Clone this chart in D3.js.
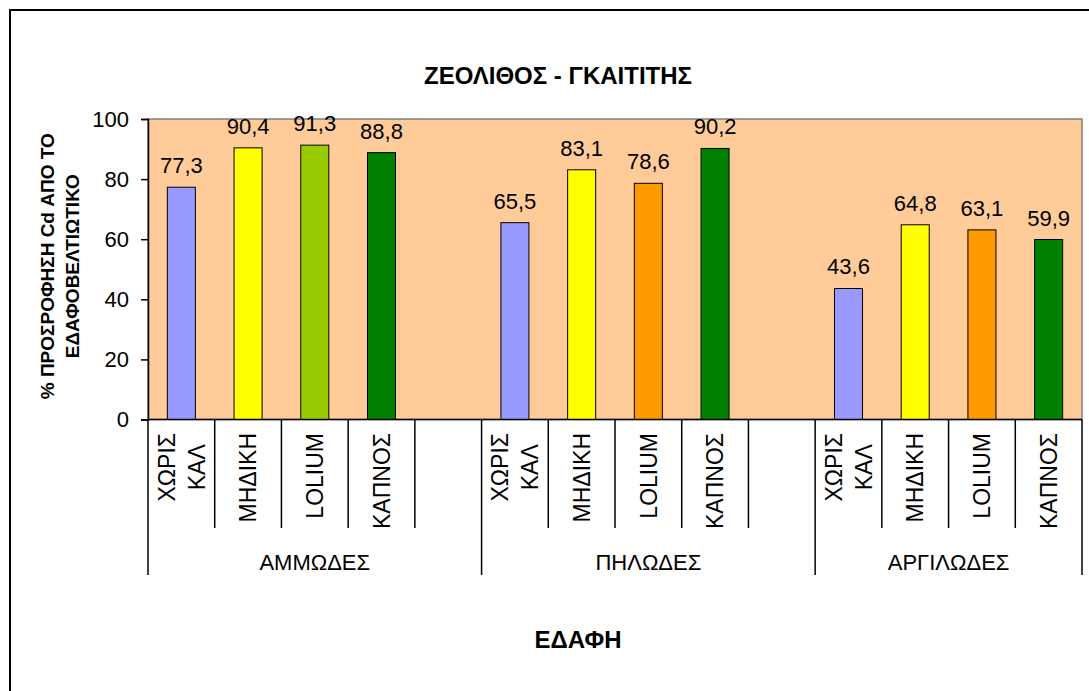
<!DOCTYPE html>
<html>
<head>
    <meta charset="UTF-8">
    <title>ΖΕΟΛΙΘΟΣ - ΓΚΑΙΤΙΤΗΣ</title>
    <script src="https://d3js.org/d3.v7.min.js"></script>
    <style>
        body { margin: 0; background: #fff; }
        text { font-family: Arial, "Liberation Sans", sans-serif; }
    </style>
</head>
<body>
    <svg class="chart"></svg>

    <script>
    // data
    const soils = ["ΑΜΜΩΔΕΣ", "ΠΗΛΩΔΕΣ", "ΑΡΓΙΛΩΔΕΣ"];
    const treatments = ["ΧΩΡΙΣ ΚΑΛ", "ΜΗΔΙΚΗ", "LOLIUM", "ΚΑΠΝΟΣ"];
    const ammodes = [77.3, 90.4, 91.3, 88.8];
    const pilodes = [65.5, 83.1, 78.6, 90.2];
    const argilodes = [43.6, 64.8, 63.1, 59.9];
    const yTicks = [0, 20, 40, 60, 80, 100];
    const colorsSand = ["#9999FF", "#FFFF00", "#99CC00", "#008000"];
    const colorsOther = ["#9999FF", "#FFFF00", "#FF9900", "#008000"];

    const width = 1089;
    const height = 691;
    const plot = {left: 148, right: 1082, top: 119, bottom: 419.5};

    const svg = d3.select(".chart")
        .attr("width", width)
        .attr("height", height);

    // build the slots: every soil gets its four treatments, the first two an empty gap slot
    const seriesBySoil = [ammodes, pilodes, argilodes];
    const slots = [];
    soils.forEach((s, gi) => {
        treatments.forEach((t, ti) => {
            slots.push({id: `${gi}-${ti}`, soil: s, label: t, value: seriesBySoil[gi][ti],
                color: gi === 0 ? colorsSand[ti] : colorsOther[ti]});
        });
        if (gi < soils.length - 1) slots.push({id: `${gi}-gap`, soil: s, label: "", value: null});
    });

    const x_scale = d3.scaleBand()
        .domain(slots.map(d => d.id))
        .range([plot.left, plot.right])
        .padding(0);

    const y_scale = d3.scaleLinear()
        .domain([0, 100])
        .range([plot.bottom, plot.top]);

    const bw = x_scale.bandwidth();
    const barW = bw * 0.42;

    // outer frame (runs off the right and bottom edges)
    svg.append("rect")
        .attr("x", 10).attr("y", 10)
        .attr("width", 1200).attr("height", 800)
        .style("fill", "none")
        .style("stroke", "#000")
        .style("stroke-width", 2);

    // plot area
    svg.append("rect")
        .attr("x", plot.left).attr("y", plot.top)
        .attr("width", plot.right - plot.left)
        .attr("height", plot.bottom - plot.top)
        .style("fill", "#FFCC99")
        .style("stroke", "#808080")
        .style("stroke-width", 1.5);

    // bars
    svg.selectAll(".bar")
        .data(slots.filter(d => d.value !== null))
        .enter().append("rect")
        .attr("class", "bar")
        .attr("x", d => x_scale(d.id) + (bw - barW) / 2)
        .attr("y", d => y_scale(d.value))
        .attr("width", barW)
        .attr("height", d => y_scale(0) - y_scale(d.value))
        .style("fill", d => d.color)
        .style("stroke", "#000")
        .style("stroke-width", 1);

    // value labels
    svg.selectAll(".val")
        .data(slots.filter(d => d.value !== null))
        .enter().append("text")
        .attr("class", "val")
        .attr("x", d => x_scale(d.id) + bw / 2)
        .attr("y", d => y_scale(d.value) - 14)
        .attr("text-anchor", "middle")
        .style("font-size", "22px")
        .text(d => d3.format(".1f")(d.value).replace(".", ","));

    // y axis
    const yAxis = svg.append("g")
        .attr("transform", `translate(${plot.left},0)`)
        .call(d3.axisLeft(y_scale).tickValues(yTicks).tickSize(7).tickPadding(12));
    yAxis.selectAll("path, line").style("stroke", "#000").style("stroke-width", 1.5);
    yAxis.selectAll("text")
        .style("font-size", "22px")
        .style("font-family", "Arial, 'Liberation Sans', sans-serif")
        .attr("fill", "#000");

    // x axis: base line, slot ticks, group ticks
    svg.append("line")
        .attr("x1", plot.left).attr("x2", plot.right)
        .attr("y1", plot.bottom).attr("y2", plot.bottom)
        .style("stroke", "#000").style("stroke-width", 1.5);

    const bounds = slots.map(d => x_scale(d.id)).concat([plot.right]);
    const groupStarts = soils.map(s => x_scale(slots.find(d => d.soil === s).id));
    const groupEdges = groupStarts.concat([plot.right]);

    svg.selectAll(".slotTick")
        .data(bounds)
        .enter().append("line")
        .attr("x1", d => d).attr("x2", d => d)
        .attr("y1", plot.bottom)
        .attr("y2", d => groupEdges.some(g => Math.abs(g - d) < 0.5) ? 575 : 528)
        .style("stroke", "#000").style("stroke-width", 1.5);

    // rotated treatment labels
    const catSize = 23;
    svg.selectAll(".cat")
        .data(slots.filter(d => d.label !== ""))
        .enter().append("g")
        .attr("class", "cat")
        .attr("transform", d => `translate(${x_scale(d.id) + bw / 2}, 433) rotate(-90)`)
        .each(function(d) {
            const words = d.label.split(" ");
            const g = d3.select(this);
            const lh = 30;
            if (words.length === 1) {
                g.append("text")
                    .attr("x", 0).attr("y", 0)
                    .attr("dy", "0.36em")
                    .attr("text-anchor", "end")
                    .style("font-size", catSize + "px")
                    .text(d.label);
            } else {
                // two centred lines, block starts at the axis
                const tmp = g.append("text").style("font-size", catSize + "px").text(words[0]);
                const w0 = tmp.node().getComputedTextLength();
                tmp.remove();
                words.forEach((w, i) => {
                    g.append("text")
                        .attr("x", -w0 / 2)
                        .attr("y", (i - (words.length - 1) / 2) * lh)
                        .attr("dy", "0.36em")
                        .attr("text-anchor", "middle")
                        .style("font-size", catSize + "px")
                        .text(w);
                });
            }
        });

    // soil group labels
    svg.selectAll(".grp")
        .data(soils)
        .enter().append("text")
        .attr("class", "grp")
        .attr("x", (d, i) => (groupEdges[i] + groupEdges[i + 1]) / 2)
        .attr("y", 570)
        .attr("text-anchor", "middle")
        .style("font-size", "22px")
        .text(d => d);

    // chart title
    svg.append("text")
        .attr("x", 558)
        .attr("y", 84)
        .attr("text-anchor", "middle")
        .style("font-size", "24px")
        .style("font-weight", "bold")
        .text("ΖΕΟΛΙΘΟΣ - ΓΚΑΙΤΙΤΗΣ");

    // x axis title
    svg.append("text")
        .attr("x", 578)
        .attr("y", 648)
        .attr("text-anchor", "middle")
        .style("font-size", "24px")
        .style("font-weight", "bold")
        .text("ΕΔΑΦΗ");

    // y axis title, two lines
    const yTitle = svg.append("text")
        .attr("transform", `translate(60, ${(plot.top + plot.bottom) / 2 - 3}) rotate(-90)`)
        .attr("text-anchor", "middle")
        .style("font-size", "19px")
        .style("font-weight", "bold");
    yTitle.append("tspan").attr("x", 0).attr("y", -6).text("% ΠΡΟΣΡΟΦΗΣΗ Cd ΑΠΟ ΤΟ");
    yTitle.append("tspan").attr("x", 0).attr("y", 19).text("ΕΔΑΦΟΒΕΛΤΙΩΤΙΚΟ");
    </script>
</body>
</html>
